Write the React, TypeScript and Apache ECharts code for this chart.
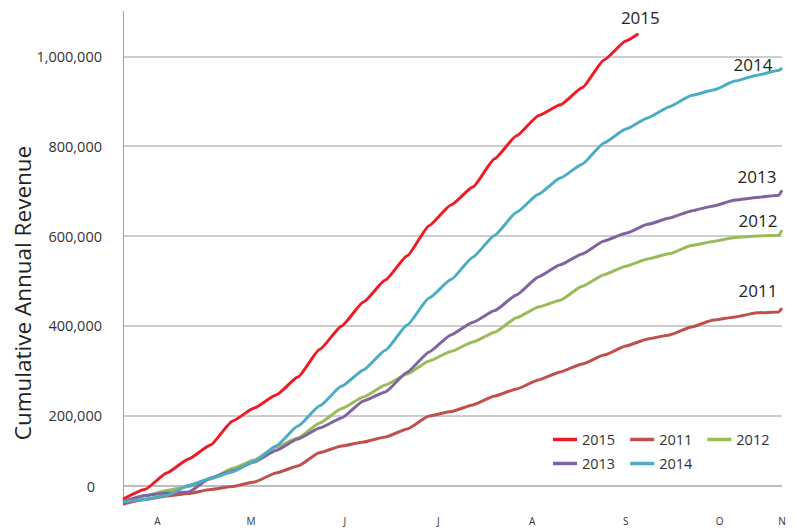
import React, { useEffect, useRef } from "react";
import * as echarts from "echarts";

// x positions in days (0 = first month label "A")
const days = [-11, -4, 3, 10, 17, 24, 31, 38, 45, 52, 59, 66, 73, 80, 87, 94, 101, 108, 115, 122, 129, 136, 143, 150, 157, 164, 171, 178, 185, 192, 199, 200];
const days2015 = [...days.slice(0, 24), 154];

const monthLabels = ["A", "M", "J", "J", "A", "S", "O", "N"];
const labelDays = [0, 30, 60, 90, 120, 150, 180, 200];

const rev2015 = [14700, 35800, 72600, 103700, 134900, 188000, 217000, 246000, 286000, 348000, 400000, 453000, 502000, 556000, 623000, 669000, 709000, 772000, 823000, 868000, 892000, 930000, 992000, 1034000, 1050000];
const rev2014 = [8700, 13600, 22500, 44700, 60300, 74800, 98000, 132700, 177000, 222000, 266000, 302000, 346000, 402000, 462000, 503000, 553000, 602000, 653000, 693000, 729000, 760000, 807000, 838000, 863000, 888000, 913000, 925000, 945000, 958000, 969000, 974000];
const rev2013 = [8700, 22500, 28000, 30300, 61400, 77000, 97000, 122700, 148000, 172700, 195000, 233000, 253000, 297000, 342000, 380000, 408000, 434000, 469000, 509000, 536000, 560000, 589000, 606000, 626000, 640000, 656000, 667000, 680000, 686000, 691000, 702000];
const rev2012 = [8700, 21400, 33600, 42500, 59200, 82600, 101500, 130400, 150500, 183900, 216000, 241700, 268500, 293000, 322000, 343000, 364000, 386000, 418000, 442000, 457000, 488000, 514000, 533000, 549000, 561000, 579000, 588000, 597000, 600000, 602000, 613000];
const rev2011 = [3600, 13600, 21400, 26900, 35800, 42500, 52500, 72600, 88100, 118200, 132700, 141600, 152700, 170500, 199500, 209500, 224000, 244000, 259600, 279600, 297400, 315200, 335000, 355000, 371000, 380000, 397600, 413000, 420000, 429000, 431000, 439800];

const yTickValues = [200000, 400000, 600000, 800000, 1000000];
const zeroLineValue = 43600;

const FONT = "Open Sans";
const TEXT = "#333333";

type SeriesDef = { name: string; color: string; x: number[]; y: number[]; off: [number, number] };

const seriesDefs: SeriesDef[] = [
  { name: "2011", color: "#C0504D", x: days, y: rev2011, off: [-24, -18] },
  { name: "2012", color: "#9BBB59", x: days, y: rev2012, off: [-24, -10] },
  { name: "2013", color: "#8064A2", x: days, y: rev2013, off: [-25, -14] },
  { name: "2014", color: "#4BACC6", x: days, y: rev2014, off: [-29, -4] },
  { name: "2015", color: "#ED1C24", x: days2015, y: rev2015, off: [2, -16] },
];

export default function App() {
  const ref = useRef<HTMLDivElement>(null);
  useEffect(() => {
    if (!ref.current) return;
    const chart = echarts.init(ref.current, null, { renderer: "svg" });
    const series: any[] = seriesDefs.map((s, i) => {
      const data = s.x.map((d, k) => [d, s.y[k]]);
      const last = data[data.length - 1];
      const obj: any = {
        name: s.name,
        type: "line",
        data,
        symbol: "none",
        smooth: 0.15,
        smoothMonotone: "x",
        lineStyle: { width: 3, color: s.color },
        itemStyle: { color: s.color },
        markPoint: {
          silent: true,
          symbol: "circle",
          symbolSize: 1,
          itemStyle: { color: "rgba(0,0,0,0)" },
          label: {
            show: true,
            position: "inside",
            formatter: s.name,
            offset: s.off,
            fontSize: 17,
            fontFamily: FONT,
            color: "#231f20",
          },
          data: [{ coord: last }],
        },
      };
      if (i === 0) {
        obj.markLine = {
          silent: true,
          symbol: "none",
          z: 1,
          lineStyle: { color: "#a8a8a8", width: 1.5, type: "solid" },
          label: {
            show: true,
            position: "start",
            formatter: "0",
            distance: 28,
            fontSize: 14.5,
            fontFamily: FONT,
            color: TEXT,
          },
          data: [{ yAxis: zeroLineValue }],
        };
      }
      return obj;
    });

    const legendCommon = {
      left: 553,
      padding: 0,
      itemWidth: 24,
      itemHeight: 3.5,
      itemGap: 15,
      icon: "rect",
      selectedMode: false,
      textStyle: { fontSize: 14.5, color: TEXT, fontFamily: FONT },
    };

    chart.setOption({
      animation: false,
      textStyle: { fontFamily: FONT },
      grid: { left: 123, right: 17, top: 11.4, bottom: 23.4 },
      xAxis: {
        type: "value",
        min: -11,
        max: 200,
        axisLine: { show: false },
        axisTick: { show: false },
        splitLine: { show: false },
        axisLabel: {
          customValues: labelDays,
          formatter: (v: number) => {
            const i = labelDays.indexOf(v);
            return i >= 0 ? monthLabels[i] : "";
          },
          fontSize: 10,
          color: TEXT,
          margin: 10,
          fontFamily: FONT,
        },
      },
      yAxis: {
        type: "value",
        min: 0,
        max: 1100000,
        interval: 200000,
        axisLine: { show: true, onZero: false, lineStyle: { color: "#a0a0a0", width: 1 } },
        axisTick: { show: false },
        splitLine: {
          show: true,
          showMinLine: false,
          showMaxLine: false,
          lineStyle: { color: "#bcbcbc", width: 1.5 },
        },
        axisLabel: {
          formatter: (v: number) => (yTickValues.indexOf(v) >= 0 ? v.toLocaleString("en-US") : ""),
          fontSize: 14.5,
          color: TEXT,
          margin: 21,
          fontFamily: FONT,
        },
      },
      legend: [
        { ...legendCommon, top: 432, data: ["2015", "2011", "2012"] },
        { ...legendCommon, top: 456, data: ["2013", "2014"] },
      ],
      graphic: [
        {
          type: "text",
          x: 22,
          y: 293,
          rotation: Math.PI / 2,
          style: {
            text: "Cumulative Annual Revenue",
            fontSize: 22.5,
            fontFamily: FONT,
            fill: "#231f20",
            align: "center",
            verticalAlign: "middle",
          },
        },
      ],
      series,
    });
    return () => chart.dispose();
  }, []);
  return (
    <div
      ref={ref}
      style={{ position: "fixed", left: 0, top: 0, width: 799, height: 529, background: "#fff" }}
    />
  );
}
